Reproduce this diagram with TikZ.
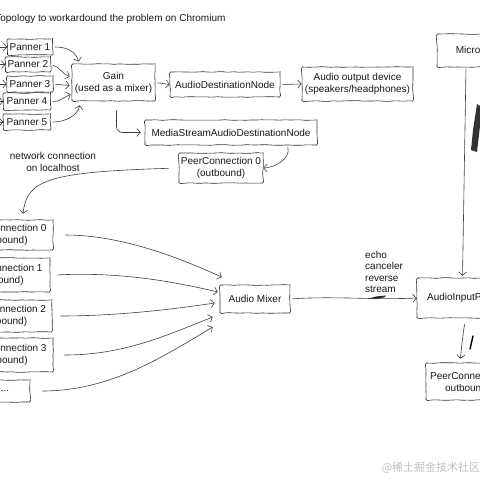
\documentclass[tikz,border=0pt]{standalone}
\usepackage{fontspec}
\setmainfont{Liberation Sans}
\newfontfamily\cjkfont{Noto Sans CJK SC}
\usepackage{tikz}
\usetikzlibrary{positioning}
\usetikzlibrary{arrows.meta}
\usetikzlibrary{decorations.pathmorphing}
\tikzset{
  sketch/.style={
    draw=black!80, line width=0.6pt, rounded corners=1.5pt,
    decorate, decoration={random steps, segment length=5pt, amplitude=0.4pt}
  },
  box/.style={sketch, rectangle, align=center, inner sep=1pt,
    text=black!90, font=\fontsize{10}{12}\selectfont},
  link/.style={draw=black!75, line width=0.6pt,
    -{Straight Barb[length=3.5pt,width=8pt,line width=0.6pt]},
    shorten <=2pt},
  note/.style={align=center, text=black!90, font=\fontsize{10}{11.5}\selectfont},
  smudge/.style={draw=black, line width=1.4pt, line cap=round}
}

\begin{document}
\pgfmathsetseed{7}
\begin{tikzpicture}[x=1pt,y=-1pt]
    \useasboundingbox (0,0) rectangle (480,480);
    \fill[white] (0,0) rectangle (480,480);
    \clip (0,0) rectangle (480,480);

    \node[note,anchor=east] (title) at (229,19) {Topology to workardound the problem on Chromium};

    % panners and the gain
    \node[box,minimum width=45pt,minimum height=16pt] (p1) at (30,47) {Panner 1};
    \node[box,minimum width=45pt,minimum height=15pt] (p2) at (28,64.5) {Panner 2};
    \node[box,minimum width=46pt,minimum height=16pt] (p3) at (30,84) {Panner 3};
    \node[box,minimum width=47pt,minimum height=17pt] (p4) at (27,101.5) {Panner 4};
    \node[box,minimum width=47pt,minimum height=16pt] (p5) at (27,122) {Panner 5};
    \node[box,minimum width=83pt,minimum height=37pt] (gain) at (113.5,82.5) {Gain\\(used as a mixer)};
    \node[box,minimum width=110pt,minimum height=25pt] (dest) at (225,84.5) {AudioDestinationNode};
    \node[box,minimum width=111pt,minimum height=34pt] (spk) at (357.5,84) {Audio output device\\(speakers/headphones)};
    \node[box,minimum width=172pt,minimum height=25pt] (msd) at (231,132.5) {MediaStreamAudioDestinationNode};
    \node[box,minimum width=84pt,minimum height=30pt] (pc0) at (221,168) {PeerConnection 0\\(outbound)};
    \node[note] (net) at (53,162) {network connection\\on localhost};

    % inbound side
    \node[box,minimum width=93pt,minimum height=30pt] (in0) at (6.5,235) {PeerConnection 0\\(inbound)};
    \node[box,minimum width=95pt,minimum height=34pt] (in1) at (2.5,275) {PeerConnection 1\\(inbound)};
    \node[box,minimum width=92pt,minimum height=32pt] (in2) at (6,316) {PeerConnection 2\\(inbound)};
    \node[box,minimum width=93pt,minimum height=34pt] (in3) at (6.5,355) {PeerConnection 3\\(inbound)};
    \node[box,minimum width=50pt,minimum height=22pt] (indots) at (5,391) {...};
    \node[box,minimum width=70pt,minimum height=28pt] (mix) at (255,299) {Audio Mixer};
    \node[note,align=left,anchor=north west,inner sep=0pt] (echo) at (365,251) {echo\\canceler\\reverse\\stream};

    % microphone side
    \node[box,minimum width=90pt,minimum height=33pt] (mic) at (482,50.5) {Microphone};
    \node[box,minimum width=113pt,minimum height=40pt] (aip) at (473.5,298) {AudioInputProcessor};
    \node[box,minimum width=80pt,minimum height=37pt] (pcout) at (466,381.5) {PeerConnection\\outbound};

    \node[text=black!25,font=\cjkfont\fontsize{11}{11}\selectfont] (mark) at (431,468) {@稀土掘金技术社区};

    \foreach \p in {p1,p2,p3,p4,p5}
      \draw[link] ([xshift=-16pt]\p.west) -- (\p.west);

    \draw[link] (p1.east) .. controls +(15,0) and +(-3,-10) .. ([shift={(7,-2)}]gain.north west);
    \draw[link] (p2.east) .. controls +(8,2) and +(-8,-3) .. ([shift={(-2,-6)}]gain.west);
    \draw[link] (p3.east) -- ([shift={(-2,3)}]gain.west);
    \draw[link] (p4.east) .. controls +(10,0) and +(-8,3) .. ([shift={(-1,12)}]gain.west);
    \draw[link] (p5.east) .. controls +(15,0) and +(-2,10) .. ([shift={(8,4)}]gain.south west);
    \draw[link] (gain.east) -- (dest.west);
    \draw[link] (dest.east) -- (spk.west);
    \draw[link,rounded corners=6pt,shorten <=9pt,shorten >=4pt] ([xshift=3pt]gain.south) |- (msd.west);
    \draw[link] ([xshift=-30pt]msd.south east) .. controls +(4,14) and +(10,0) .. (pc0.east);
    \draw[link,shorten <=10pt,shorten >=6pt] (pc0.west) .. controls +(-130,4) and +(4,-40) .. ([xshift=16pt]in0.north);

    \draw[link] ([xshift=10pt]in0.east) .. controls +(60,0) and +(-40,-18) .. ([shift={(2,-22)}]mix.west);
    \draw[link] ([xshift=5pt]in1.east) .. controls +(60,-3) and +(-50,-12) .. ([shift={(-2,-7)}]mix.west);
    \draw[link] ([xshift=6pt]in2.east) .. controls +(60,0) and +(-40,6) .. ([shift={(-5,4)}]mix.west);
    \draw[link] ([xshift=9pt]in3.east) .. controls +(60,0) and +(-50,20) .. ([shift={(-7,18)}]mix.west);
    \draw[link] ([xshift=10pt]indots.east) .. controls +(70,0) and +(-50,30) .. ([shift={(-7,28)}]mix.west);
    \draw[link] (mix.east) .. controls +(40,-3) and +(-40,2) .. (aip.west);
    \draw[link,shorten >=2pt] ([xshift=-16pt]mic.south) -- ([xshift=-11pt]aip.north);
    \draw[link,shorten <=6pt,shorten >=4pt] ([xshift=-7pt]aip.south) .. controls +(-3,10) and +(1,-10) .. ([xshift=-6pt]pcout.north);

    % pen marks
    \fill[black!85] (367,299) -- (376,296.5) -- (386,295.5) -- (384,297.5) -- (375,298.5) -- cycle;
    \fill[black!80] (477,104) -- (480,106) -- (480,126) -- (477,152) -- (471,150) -- (473,130) -- cycle;
    \draw[smudge] (473,336) -- (470,349);
\end{tikzpicture}
\end{document}
